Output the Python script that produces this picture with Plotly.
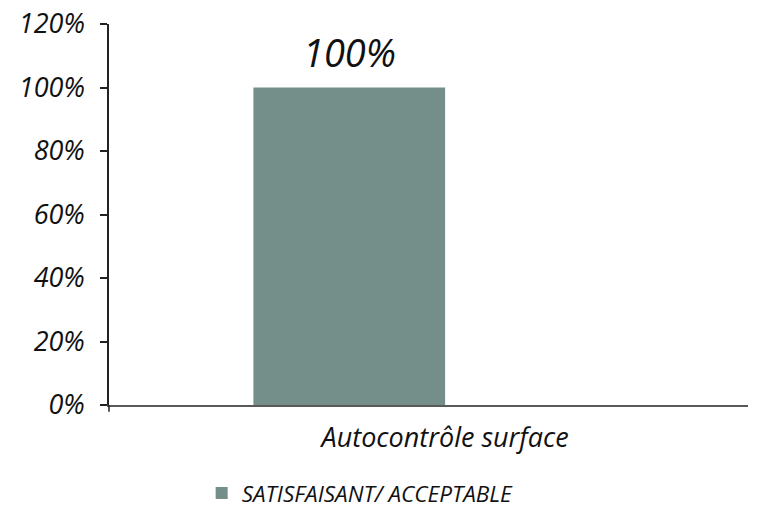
import plotly.graph_objects as go

# Data
categories = ["Autocontrôle surface"]
series_name = "SATISFAISANT/ ACCEPTABLE"
values = [1.00]
y_ticks = [0, 0.2, 0.4, 0.6, 0.8, 1.0, 1.2]

BAR_COLOR = "#748f8a"
TEXT_COLOR = "#111111"
FONT = "Open Sans"
BAR_OFFSET = -0.30
BAR_WIDTH = 0.30

fig = go.Figure()
fig.add_trace(go.Bar(
    x=categories,
    y=values,
    name=series_name,
    marker=dict(color=BAR_COLOR, line=dict(width=0)),
    offset=BAR_OFFSET,
    width=BAR_WIDTH,
    showlegend=True,
))

# value labels above the bars
for i, (cat, val) in enumerate(zip(categories, values)):
    fig.add_annotation(
        x=i + BAR_OFFSET + BAR_WIDTH / 2,
        y=val,
        text=f"{val:.0%}",
        showarrow=False,
        yanchor="bottom",
        yshift=8,
        font=dict(family=FONT, size=38, style="italic", color=TEXT_COLOR),
    )

fig.update_layout(
    width=760,
    height=512,
    margin=dict(l=109, r=12, t=24, b=107, autoexpand=False),
    paper_bgcolor="white",
    plot_bgcolor="white",
    font=dict(family=FONT, size=27, style="italic", color=TEXT_COLOR),
    showlegend=True,
    legend=dict(
        orientation="h",
        x=0.145, xanchor="left",
        y=-0.232, yanchor="middle",
        font=dict(family=FONT, size=22.5, style="italic", color=TEXT_COLOR),
        itemwidth=30,
        bgcolor="rgba(0,0,0,0)",
    ),
    bargap=0.2,
)

fig.update_xaxes(
    type="category",
    range=[-0.526, 0.474],
    automargin=False,
    showline=True,
    linecolor="#595959",
    linewidth=2,
    ticks="",
    showgrid=False,
    zeroline=False,
    ticklabelstandoff=8,
    tickfont=dict(family=FONT, size=27, style="italic", color=TEXT_COLOR),
)

fig.update_yaxes(
    range=[0, 1.2],
    automargin=False,
    tickvals=y_ticks,
    tickformat=".0%",
    showline=True,
    linecolor="#222222",
    linewidth=1.5,
    ticks="outside",
    ticklen=7,
    tickcolor="#222222",
    tickwidth=1.5,
    showgrid=False,
    zeroline=False,
    ticklabelstandoff=10,
)

# small boundary tick below the left end of the category axis
fig.add_shape(type="line", xref="paper", yref="paper",
              x0=0, x1=0, y0=0, y1=-0.018,
              line=dict(color="#222222", width=1.5))

fig.write_html("out.html")
